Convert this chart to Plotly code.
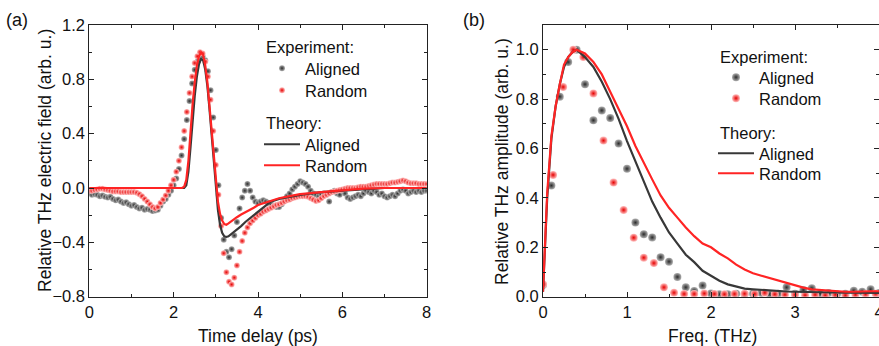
import plotly.graph_objects as go

W, H = 879, 346

# ---------------- Panel (a): time domain ----------------
t_step = 0.0625
t_exp = [round(i * t_step, 4) for i in range(129)]

e_random = [-0.02, -0.02, -0.015, -0.01, -0.005, -0.005, -0.01, -0.015, -0.02, -0.025,
            -0.025, -0.025, -0.03, -0.03, -0.03, -0.03, -0.03, -0.03, -0.035, -0.045,
            -0.06, -0.08, -0.1, -0.12, -0.14, -0.15, -0.14, -0.11, -0.085, -0.055,
            -0.02, 0.02, 0.06, 0.12, 0.2, 0.3, 0.42, 0.56, 0.7, 0.82,
            0.92, 0.97, 1.0, 0.99, 0.93, 0.82, 0.65, 0.42, 0.17, -0.05,
            -0.28, -0.48, -0.62, -0.69, -0.71, -0.66, -0.57, -0.47, -0.39, -0.33,
            -0.29, -0.26, -0.24, -0.22, -0.2, -0.19, -0.175, -0.165, -0.155, -0.145,
            -0.135, -0.125, -0.12, -0.11, -0.1, -0.09, -0.085, -0.075, -0.07, -0.065,
            -0.06, -0.06, -0.06, -0.065, -0.075, -0.085, -0.095, -0.09, -0.075, -0.06,
            -0.05, -0.04, -0.03, -0.025, -0.02, -0.015, -0.01, -0.005, 0.0, 0.0,
            0.0, 0.0, 0.005, 0.01, 0.01, 0.01, 0.015, 0.02, 0.025, 0.03,
            0.03, 0.03, 0.03, 0.03, 0.035, 0.04, 0.04, 0.045, 0.05, 0.055,
            0.05, 0.04, 0.035, 0.035, 0.035, 0.03, 0.03, 0.03, 0.03]

e_aligned = [-0.04, -0.05, -0.045, -0.05, -0.06, -0.055, -0.065, -0.07, -0.065, -0.08,
             -0.09, -0.085, -0.1, -0.11, -0.105, -0.12, -0.13, -0.125, -0.14, -0.15,
             -0.145, -0.16, -0.155, -0.16, -0.17, -0.165, -0.16, -0.13, -0.1, -0.08,
             -0.05, -0.02, 0.02, 0.07, 0.14, 0.24, 0.36, 0.5, 0.64, 0.77,
             0.87, 0.93, 0.96, 0.97, 0.94, 0.86, 0.72, 0.52, 0.28, 0.02,
             -0.22, -0.38, -0.47, -0.51, -0.45, -0.35, -0.25, -0.15, -0.07, -0.02,
             0.03, -0.02, -0.07, -0.1, -0.11, -0.1, -0.09, -0.1, -0.11, -0.12,
             -0.13, -0.14, -0.14, -0.12, -0.09, -0.06, -0.04, -0.01, 0.01, 0.03,
             0.05, 0.04, 0.03, 0.01, -0.02, -0.04, -0.05, -0.06, -0.05, -0.04,
             -0.05, -0.1, -0.03, -0.02, -0.04, -0.05, -0.02, -0.04, -0.07, -0.08,
             -0.07, -0.06, -0.05, -0.06, -0.04, -0.02, -0.03, -0.04, -0.02, -0.03,
             -0.05, -0.04, -0.06, -0.07, -0.06, -0.05, -0.06, -0.04, -0.02, -0.01,
             -0.02, -0.04, -0.03, -0.02, -0.03, -0.02, -0.03, -0.02, -0.02]

t_th_aligned = [0.0, 2.25, 2.3, 2.35, 2.4, 2.45, 2.5, 2.55, 2.6, 2.65, 2.7, 2.75, 2.8, 2.85,
                2.9, 2.95, 3.0, 3.05, 3.1, 3.15, 3.2, 3.25, 3.3, 3.4, 3.5, 3.6, 3.7, 3.8,
                3.9, 4.0, 4.1, 4.2, 4.3, 4.5, 5.0, 5.5, 6.0, 6.5, 7.0, 8.0]
th_aligned = [0.0, 0.0, 0.02, 0.12, 0.3, 0.5, 0.68, 0.82, 0.91, 0.95, 0.94, 0.87, 0.75, 0.58,
              0.38, 0.17, -0.02, -0.16, -0.27, -0.33, -0.355, -0.36, -0.355, -0.33, -0.31,
              -0.28, -0.25, -0.225, -0.2, -0.17, -0.145, -0.125, -0.1, -0.08, -0.05, -0.03,
              -0.02, -0.01, 0.0, 0.0]

t_th_random = [0.0, 2.2, 2.25, 2.3, 2.35, 2.4, 2.45, 2.5, 2.55, 2.6, 2.65, 2.7, 2.75, 2.8,
               2.85, 2.9, 2.95, 3.0, 3.05, 3.1, 3.15, 3.2, 3.25, 3.3, 3.4, 3.5, 3.6, 3.7,
               3.8, 3.9, 4.0, 4.25, 4.5, 4.75, 5.0, 5.5, 6.0, 6.5, 7.0, 8.0]
th_random = [0.0, 0.0, 0.01, 0.06, 0.2, 0.42, 0.62, 0.78, 0.9, 0.97, 1.0, 0.98, 0.9, 0.78,
             0.6, 0.4, 0.2, 0.03, -0.1, -0.19, -0.24, -0.265, -0.27, -0.26, -0.235, -0.215,
             -0.195, -0.18, -0.165, -0.145, -0.125, -0.1, -0.075, -0.06, -0.045, -0.03,
             -0.015, -0.005, 0.0, 0.0]

# ---------------- Panel (b): frequency domain ----------------
f_aligned = [round(i * 0.1, 2) for i in range(41)]
s_aligned = [0.047, 0.45, 0.81, 0.95, 1.0, 0.86, 0.714, 0.754, 0.723, 0.62,
             0.518, 0.30, 0.253, 0.24, 0.16, 0.142, 0.08, 0.038, 0.023, 0.045,
             0.013, 0.01, 0.01, 0.012, 0.01, 0.012, 0.015, 0.01, 0.012, 0.038,
             0.012, 0.027, 0.034, 0.012, 0.015, 0.01, 0.012, 0.024, 0.02, 0.03, 0.015]

f_random = [round(i * 0.12, 2) for i in range(34)]
s_random = [0.05, 0.493, 0.849, 1.0, 0.97, 0.823, 0.632, 0.462, 0.351, 0.239,
            0.158, 0.136, 0.038, 0.016, 0.011, 0.011, 0.013, 0.011, 0.01, 0.011,
            0.012, 0.011, 0.016, 0.01, 0.008, 0.008, 0.006, 0.008, 0.006, 0.008,
            0.006, 0.008, 0.01, 0.012]

f_th = [0.0, 0.02, 0.05, 0.1, 0.15, 0.2, 0.25, 0.3, 0.35, 0.4, 0.5, 0.6, 0.7, 0.8, 0.9,
        1.0, 1.1, 1.2, 1.3, 1.4, 1.5, 1.6, 1.7, 1.8, 1.9, 2.0, 2.1, 2.2, 2.3, 2.4, 2.5,
        2.6, 2.7, 2.8, 2.9, 3.0, 3.1, 3.2, 3.3, 3.4, 3.5, 3.6, 3.7, 3.8, 3.9, 4.0]
sth_aligned = [0.02, 0.15, 0.4, 0.64, 0.77, 0.86, 0.93, 0.97, 0.99, 1.0, 0.97, 0.93, 0.87,
               0.8, 0.72, 0.63, 0.55, 0.465, 0.385, 0.32, 0.26, 0.215, 0.17, 0.14, 0.105,
               0.085, 0.065, 0.05, 0.04, 0.033, 0.03, 0.027, 0.025, 0.022, 0.021, 0.02,
               0.019, 0.018, 0.018, 0.017, 0.017, 0.016, 0.016, 0.015, 0.015, 0.015]
sth_random = [0.02, 0.18, 0.42, 0.65, 0.77, 0.86, 0.94, 0.97, 0.99, 1.0, 0.985, 0.95, 0.9,
              0.83, 0.76, 0.69, 0.61, 0.54, 0.475, 0.41, 0.36, 0.32, 0.28, 0.245, 0.215,
              0.2, 0.175, 0.155, 0.13, 0.11, 0.095, 0.085, 0.075, 0.065, 0.055, 0.045,
              0.037, 0.03, 0.027, 0.025, 0.022, 0.02, 0.02, 0.022, 0.022, 0.022]

# ---------------- styles ----------------
FONT = "Liberation Sans, Arial, sans-serif"
TXT = "#111111"
GRAY_C, GRAY_E = "#b0b0b0", "#2a2a2a"
RED_C, RED_E = "#ffc0c0", "#e60000"
GRAY_LINE, RED_LINE = "#383838", "#ff2424"
FS_TICK, FS_LEG, FS_TITLE = 16.5, 16.5, 17.5


def px_x(p):
    return p / W


def px_y(p):
    return 1 - p / H


fig = go.Figure()

def exp_trace(x, y, c, e, name, size, xa, ya, legend):
    return go.Scatter(x=x, y=y, mode="markers", name=name, showlegend=True,
                      marker=dict(size=size, color=c, gradient=dict(type="radial", color=e),
                                  line=dict(width=0)),
                      xaxis=xa, yaxis=ya, legend=legend)

def th_trace(x, y, col, name, xa, ya, legend):
    return go.Scatter(x=x, y=y, mode="lines", name=name, showlegend=True,
                      line=dict(color=col, width=2.2),
                      xaxis=xa, yaxis=ya, legend=legend)

# panel (a)
fig.add_trace(exp_trace(t_exp, e_aligned, GRAY_C, GRAY_E, "Aligned", 6, "x", "y", "legend"))
fig.add_trace(exp_trace(t_exp, e_random, RED_C, RED_E, "Random", 6, "x", "y", "legend3"))
fig.add_trace(th_trace(t_th_aligned, th_aligned, GRAY_LINE, "Aligned", "x", "y", "legend4"))
fig.add_trace(th_trace(t_th_random, th_random, RED_LINE, "Random", "x", "y", "legend5"))
# panel (b)
fig.add_trace(exp_trace(f_aligned, s_aligned, GRAY_C, GRAY_E, "Aligned", 8, "x2", "y2", "legend2"))
fig.add_trace(exp_trace(f_random, s_random, RED_C, RED_E, "Random", 8, "x2", "y2", "legend6"))
fig.add_trace(th_trace(f_th, sth_aligned, GRAY_LINE, "Aligned", "x2", "y2", "legend7"))
fig.add_trace(th_trace(f_th, sth_random, RED_LINE, "Random", "x2", "y2", "legend8"))

axis_common = dict(showline=True, linecolor="#222", linewidth=1, mirror="allticks",
                   ticks="inside", ticklen=5, tickcolor="#222", showgrid=False, zeroline=False,
                   tickfont=dict(size=FS_TICK, family=FONT, color=TXT), automargin=False,
                   ticklabeloverflow="allow")

ydom = [px_y(296.7), px_y(25)]


def leg(xp, center_y):
    return dict(x=px_x(xp), y=px_y(center_y - 17), xanchor="left", yanchor="top",
                bgcolor="rgba(0,0,0,0)", borderwidth=0, itemwidth=36, visible=True,
                font=dict(size=FS_LEG, family=FONT, color=TXT))


fig.update_layout(
    width=W, height=H, margin=dict(l=0, r=0, t=0, b=0), showlegend=True,
    paper_bgcolor="white", plot_bgcolor="white",
    font=dict(family=FONT, size=16, color=TXT),
    xaxis=dict(domain=[px_x(89.3), px_x(426.7)], range=[0, 8], dtick=2, anchor="y",
               minor=dict(ticks="inside", dtick=1, ticklen=3, tickcolor="#222"), **axis_common),
    yaxis=dict(domain=ydom, range=[-0.8, 1.2], dtick=0.4, tickformat=".1f", anchor="x",
               minor=dict(ticks="inside", dtick=0.2, ticklen=3, tickcolor="#222"), **axis_common),
    xaxis2=dict(domain=[px_x(543), 1.0], range=[0, 4], dtick=1, anchor="y2",
                minor=dict(ticks="inside", dtick=0.5, ticklen=3, tickcolor="#222"), **axis_common),
    yaxis2=dict(domain=ydom, range=[0, 1.1], dtick=0.2, tickformat=".1f", anchor="x2",
                minor=dict(ticks="inside", dtick=0.1, ticklen=3, tickcolor="#222"), **axis_common),
    legend=leg(259, 68), legend3=leg(259, 90), legend4=leg(259, 144), legend5=leg(259, 165),
    legend2=leg(713, 77), legend6=leg(713, 98), legend7=leg(713, 153), legend8=leg(713, 173),
)

ann = [
    dict(text="(a)", x=px_x(4), y=px_y(20), xanchor="left", yanchor="middle", size=18),
    dict(text="(b)", x=px_x(461), y=px_y(20), xanchor="left", yanchor="middle", size=18),
    dict(text="Experiment:", x=px_x(264), y=px_y(47), xanchor="left", yanchor="middle", size=FS_LEG),
    dict(text="Theory:", x=px_x(264), y=px_y(123), xanchor="left", yanchor="middle", size=FS_LEG),
    dict(text="Experiment:", x=px_x(718), y=px_y(57), xanchor="left", yanchor="middle", size=FS_LEG),
    dict(text="Theory:", x=px_x(718), y=px_y(133), xanchor="left", yanchor="middle", size=FS_LEG),
    dict(text="Time delay (ps)", x=px_x(258), y=px_y(336), xanchor="center", yanchor="middle"),
    dict(text="Freq. (THz)", x=px_x(712), y=px_y(336), xanchor="center", yanchor="middle"),
    dict(text="Relative THz electric field (arb. u.)", x=px_x(45), y=px_y(161), textangle=-90,
         xanchor="center", yanchor="middle"),
    dict(text="Relative THz amplitude (arb. u.)", x=px_x(502), y=px_y(162), textangle=-90,
         xanchor="center", yanchor="middle"),
]
for a in ann:
    size = a.pop("size", FS_TITLE)
    fig.add_annotation(xref="paper", yref="paper", showarrow=False,
                       font=dict(size=size, family=FONT, color=TXT), **a)

fig.write_html("out.html")
